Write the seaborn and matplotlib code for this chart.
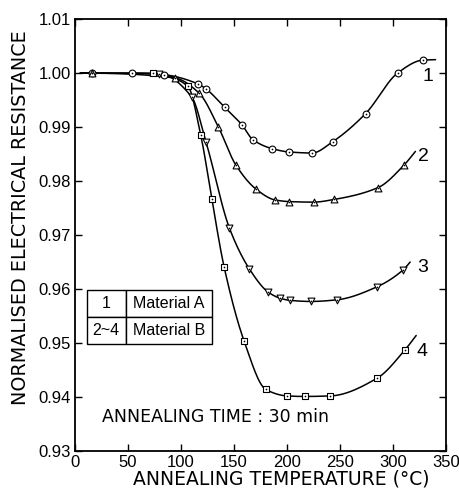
import numpy as np
import matplotlib
matplotlib.use('Agg')
import matplotlib.pyplot as plt
import seaborn as sns

# Read-off values (temperature in C, normalised resistance)
temp_1 = [16, 54, 84, 116, 124, 141, 157.5, 167.6, 186, 201.6, 223.6, 243, 274, 304.7, 327.7]
res_1 = [1.0000, 1.0000, 0.9997, 0.9980, 0.9970, 0.9937, 0.9904, 0.9877, 0.9860, 0.9854, 0.9852, 0.9873, 0.9925, 1.0001, 1.0024]

temp_2 = [16, 94, 117, 135, 151.6, 170.8, 188.7, 202, 225, 244.3, 285.8, 310.4]
res_2 = [1.0000, 0.9991, 0.9963, 0.9901, 0.9830, 0.9785, 0.9765, 0.9762, 0.9761, 0.9766, 0.9788, 0.9830]

temp_3 = [79, 110, 123.6, 145.6, 164.5, 182.4, 193.4, 202.8, 222.6, 246.8, 284.6, 309.7]
res_3 = [0.9999, 0.9956, 0.9872, 0.9713, 0.9637, 0.9594, 0.9583, 0.9579, 0.9577, 0.9580, 0.9604, 0.9636]

temp_4 = [74, 106.3, 118.6, 129, 140.6, 159.4, 179.9, 200, 216.4, 240.8, 285, 311]
res_4 = [1.0000, 0.9976, 0.9885, 0.9767, 0.9641, 0.9504, 0.9414, 0.9402, 0.9401, 0.9402, 0.9435, 0.9487]

# where the drawn curves start and stop (no marker there)
line_start_temp = 5
line_start_res = 1.0000
line_end_temp = [340, 321, 316, 321.7]
line_end_res = [1.0025, 0.9855, 0.9650, 0.9514]

curve_names = ['1', '2', '3', '4']
curve_markers = ['o', '^', 'v', 's']
label_temp = [333, 329, 328, 327]
label_res = [0.9993, 0.9845, 0.9640, 0.9484]

legend_rows = [['1', 'Material A'], ['2~4', 'Material B']]

tick_font = 'Liberation Sans'


def pchip(x, y, n=25):
    # smooth monotone cubic through the points, only for drawing the line
    x = np.asarray(x, float)
    y = np.asarray(y, float)
    h = np.diff(x)
    d = np.diff(y) / h
    m = np.zeros_like(y)
    m[0], m[-1] = d[0], d[-1]
    for k in range(1, len(x) - 1):
        if d[k - 1] * d[k] > 0:
            w1 = 2 * h[k] + h[k - 1]
            w2 = h[k] + 2 * h[k - 1]
            m[k] = (w1 + w2) / (w1 / d[k - 1] + w2 / d[k])
    xs, ys = [], []
    for k in range(len(x) - 1):
        s = np.linspace(0, 1, n, endpoint=False)
        h00 = 2 * s**3 - 3 * s**2 + 1
        h10 = s**3 - 2 * s**2 + s
        h01 = -2 * s**3 + 3 * s**2
        h11 = s**3 - s**2
        xs.append(x[k] + s * h[k])
        ys.append(h00 * y[k] + h10 * h[k] * m[k] + h01 * y[k + 1] + h11 * h[k] * m[k + 1])
    xs.append([x[-1]])
    ys.append([y[-1]])
    return np.concatenate(xs), np.concatenate(ys)


sns.set_style('ticks')
plt.rcParams['font.family'] = ['DejaVu Sans']
plt.rcParams['text.color'] = 'black'
plt.rcParams['axes.labelcolor'] = 'black'
plt.rcParams['xtick.color'] = 'black'
plt.rcParams['ytick.color'] = 'black'

fig = plt.figure(figsize=(4.6, 4.91), dpi=100)
ax = fig.add_axes([0.163, 0.0815, 0.807, 0.8795])

all_temps = [temp_1, temp_2, temp_3, temp_4]
all_res = [res_1, res_2, res_3, res_4]

for i in range(4):
    lx = [line_start_temp] + all_temps[i] + [line_end_temp[i]]
    ly = [line_start_res] + all_res[i] + [line_end_res[i]]
    sx, sy = pchip(lx, ly)
    sns.lineplot(x=sx, y=sy, sort=False, estimator=None, color='black', lw=1.1, ax=ax)

for i in range(4):
    sns.scatterplot(x=all_temps[i], y=all_res[i], marker=curve_markers[i], s=24,
                    facecolor='white', edgecolor='black', linewidth=0.8, ax=ax, zorder=3)
    sns.scatterplot(x=all_temps[i], y=all_res[i], marker='o', s=1.5,
                    color='black', linewidth=0, ax=ax, zorder=4)
    ax.text(label_temp[i], label_res[i], curve_names[i], fontsize=14,
            family=tick_font, ha='center', va='center')

ax.set_xlim(0, 350)
ax.set_ylim(0.93, 1.01)
ax.set_xticks(np.arange(0, 351, 50))
ax.set_yticks(np.arange(0.93, 1.0101, 0.01))
ax.set_yticklabels(['%.2f' % v for v in np.arange(0.93, 1.0101, 0.01)])
ax.tick_params(direction='in', length=5, width=1, top=True, right=True,
               labelsize=12, pad=3)
for lab in ax.get_xticklabels() + ax.get_yticklabels():
    lab.set_family(tick_font)
for sp in ax.spines.values():
    sp.set_linewidth(1.3)
    sp.set_color('black')

ax.set_xlabel('ANNEALING TEMPERATURE (\u00b0C)', fontsize=13.5)
ax.set_ylabel('NORMALISED ELECTRICAL RESISTANCE', fontsize=13.8)
ax.xaxis.set_label_coords(0.555, -0.044)
ax.yaxis.set_label_coords(-0.12, 0.54)

tbl = ax.table(cellText=legend_rows, cellLoc='center', colWidths=[0.31, 0.69],
               bbox=[0.032, 0.248, 0.337, 0.125])
tbl.auto_set_font_size(False)
tbl.set_fontsize(11.5)
for (r, c), cell in tbl.get_celld().items():
    cell.set_linewidth(1.0)
    cell.get_text().set_family(tick_font)
    if c == 1:
        cell._loc = 'left'
        cell.PAD = 0.03

ax.text(0.073, 0.079, 'ANNEALING TIME : 30 min', transform=ax.transAxes,
        fontsize=12.5, va='center', ha='left')

fig.savefig('out.png', dpi=100)
